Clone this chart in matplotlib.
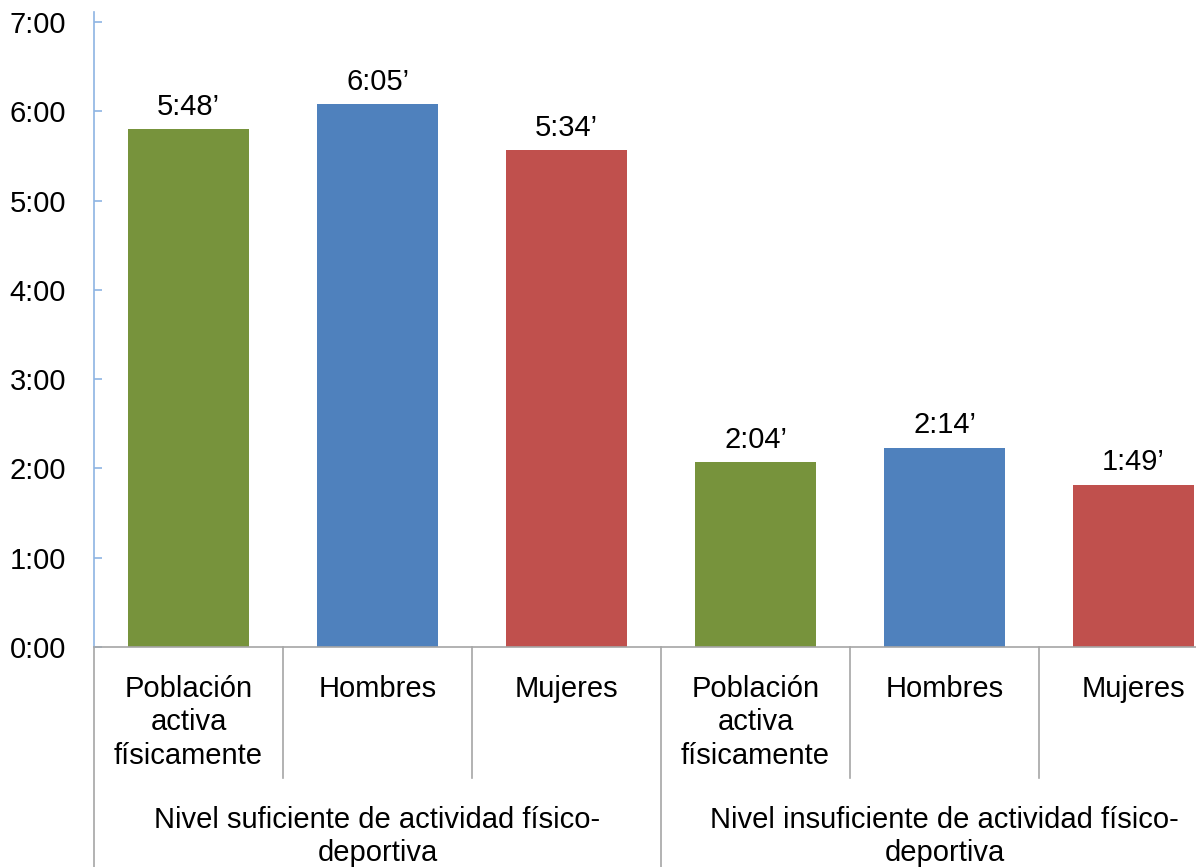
import matplotlib
matplotlib.use("Agg")
import matplotlib.pyplot as plt
from matplotlib.transforms import blended_transform_factory

plt.rcParams['font.family'] = ['Liberation Sans', 'DejaVu Sans']

# Minutes per day of physical activity
categories = ["Población\nactiva\nfísicamente", "Hombres", "Mujeres",
              "Población\nactiva\nfísicamente", "Hombres", "Mujeres"]
groups = ["Nivel suficiente de actividad físico-\ndeportiva",
          "Nivel insuficiente de actividad físico-\ndeportiva"]
minutes = [348, 365, 334, 124, 134, 109]
colors = ["#77933C", "#4F81BD", "#C0504D", "#77933C", "#4F81BD", "#C0504D"]
ytick_hours = [0, 1, 2, 3, 4, 5, 6, 7]

FS = 21
W, H = 1196, 867
fig = plt.figure(figsize=(W / 100, H / 100), dpi=100)
left_px, right_px, bottom_px, top_px = 94, 1228, 647, 12
ax = fig.add_axes([left_px / W, 1 - bottom_px / H,
                   (right_px - left_px) / W, (bottom_px - top_px) / H])

x = list(range(len(minutes)))
ax.bar(x, minutes, width=0.64, color=colors, zorder=2)
ax.set_xlim(-0.5, len(minutes) - 0.5)
ymax = 420 + 10 * 420 / 625
ax.set_ylim(0, ymax)

ax.set_yticks([h * 60 for h in ytick_hours])
ax.set_yticklabels([f"{h}:00" for h in ytick_hours], fontsize=FS)
ax.tick_params(axis='y', direction='in', length=6, width=1.2,
               color='#8EB4E3', pad=20)
ax.set_xticks([])

for s in ['top', 'right']:
    ax.spines[s].set_visible(False)
ax.spines['left'].set_color('#8EB4E3')
ax.spines['left'].set_linewidth(1.2)
ax.spines['bottom'].set_color('#A6A6A6')
ax.spines['bottom'].set_linewidth(1.2)

# value labels above bars
for xi, v in zip(x, minutes):
    ax.annotate(f"{v // 60}:{v % 60:02d}\u2019", (xi, v), xytext=(0, 6),
                textcoords='offset points', ha='center', va='bottom',
                fontsize=FS)

tr = blended_transform_factory(ax.transData, fig.transFigure)

def fy(px):
    return 1 - px / H

# category labels and separators
for xi, lab in zip(x, categories):
    ax.text(xi, fy(675), lab, transform=tr, ha='center', va='top',
            fontsize=FS, linespacing=1.24)
for b in range(1, len(minutes)):
    if b % 3 == 0:
        continue
    ax.plot([b - 0.5, b - 0.5], [fy(bottom_px), fy(778)], transform=tr,
            color='#A6A6A6', lw=1.2, clip_on=False)

# group labels and separators
for g, lab in enumerate(groups):
    ax.text(3 * g + 1, fy(806), lab, transform=tr, ha='center', va='top',
            fontsize=FS, linespacing=1.24)
for b in [-0.5, 2.5, 5.5]:
    ax.plot([b, b], [fy(bottom_px), 0], transform=tr,
            color='#A6A6A6', lw=1.2, clip_on=False)

fig.savefig("out.png", dpi=100)
